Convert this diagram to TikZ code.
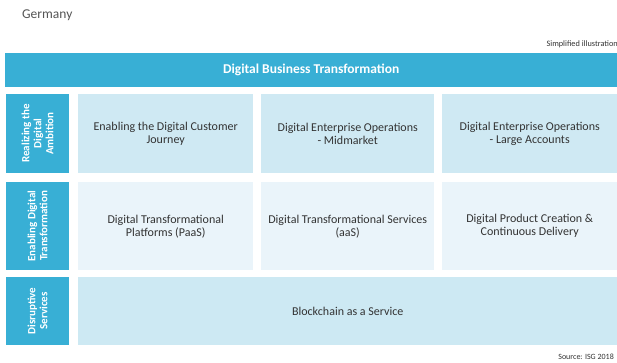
\documentclass[tikz,border=0pt]{standalone}
\usepackage{fontspec}
\setmainfont{Carlito}
\definecolor{bannerblue}{HTML}{38AFD5}
\definecolor{cellA}{HTML}{CFE9F3}
\definecolor{cellB}{HTML}{EAF4FA}
\definecolor{cellC}{HTML}{CDE9F3}
\definecolor{txt}{HTML}{333333}
\definecolor{graytxt}{HTML}{555555}
\tikzset{
  banner/.style={fill=bannerblue, inner sep=0pt, anchor=north west, text=white, font=\fontsize{13.5}{15}\selectfont\bfseries},
  sidebox/.style={fill=bannerblue, inner sep=0pt, rotate=90, align=center, text=white, font=\fontsize{11}{12}\selectfont\bfseries},
  cell/.style={inner sep=0pt, anchor=north west, align=center, text=txt, font=\fontsize{12}{13}\selectfont},
  note/.style={inner sep=0pt, text=txt, font=\fontsize{8.3}{9}\selectfont}
}
\begin{document}
\begin{tikzpicture}[x=1pt,y=-1pt]
\useasboundingbox (0,0) rectangle (617,362);
\fill[white] (0,0) rectangle (617,362);

\node[inner sep=0pt, anchor=west, text=graytxt, font=\fontsize{13.5}{15}\selectfont] (title) at (22,15) {Germany};
\node[note, anchor=east] (simp) at (618,44) {Simplified illustration};

\node[banner, minimum width=612pt, minimum height=34pt] (dbt) at (5,53) {Digital Business Transformation};

% side labels
\node[sidebox, minimum width=79pt, minimum height=63pt] (s1) at (37.5,133.5) {Realizing the\\Digital\\Ambition};
\node[sidebox, minimum width=88pt, minimum height=63pt] (s2) at (37.5,226) {Enabling Digital\\Transformation};
\node[sidebox, minimum width=68pt, minimum height=63pt] (s3) at (37.5,311) {Disruptive\\Services};

% row 1
\node[cell, fill=cellA, minimum width=175pt, minimum height=79pt] (c11) at (78,94) {Enabling the Digital Customer\\Journey};
\node[cell, fill=cellA, minimum width=173pt, minimum height=79pt] (c12) at (261,94) {Digital Enterprise Operations\\- Midmarket};
\node[cell, fill=cellA, minimum width=175pt, minimum height=79pt] (c13) at (442,94) {Digital Enterprise Operations\\- Large Accounts};

% row 2
\node[cell, fill=cellB, minimum width=175pt, minimum height=88pt] (c21) at (78,182) {Digital Transformational\\Platforms (PaaS)};
\node[cell, fill=cellB, minimum width=173pt, minimum height=88pt] (c22) at (261,182) {Digital Transformational Services\\(aaS)};
\node[cell, fill=cellB, minimum width=175pt, minimum height=88pt] (c23) at (442,182) {Digital Product Creation \&\\Continuous Delivery};

% row 3
\node[cell, fill=cellC, minimum width=539pt, minimum height=68pt] (c31) at (78,277) {Blockchain as a Service};

\node[note, anchor=east, font=\fontsize{8}{9}\selectfont] (src) at (614,357) {Source: ISG 2018};
\end{tikzpicture}
\end{document}
